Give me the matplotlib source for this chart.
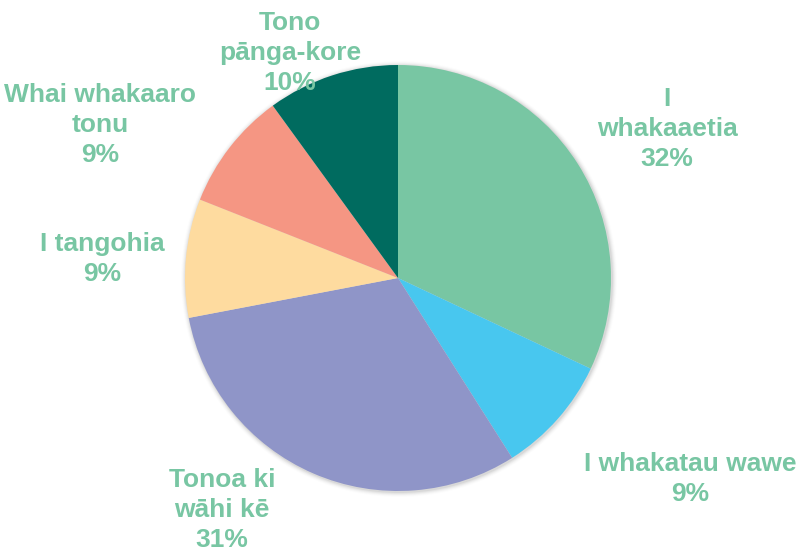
import matplotlib
matplotlib.use("Agg")
import matplotlib.pyplot as plt
from matplotlib.patches import Circle

categories = ["I\nwhakaaetia", "I whakatau wawe", "Tonoa ki\nwāhi kē",
              "I tangohia", "Whai whakaaro\ntonu", "Tono\npānga-kore"]
values = [32, 9, 31, 9, 9, 10]

colors = ["#78C6A3", "#48C7EF", "#8F95C8", "#FEDB9F", "#F59683", "#006B5F"]
text_color = "#78C6A3"

W, H = 797, 551
fig = plt.figure(figsize=(W / 100, H / 100), dpi=100)
ax = fig.add_axes([0, 0, 1, 1])
ax.set_xlim(0, W)
ax.set_ylim(0, H)
ax.set_aspect("equal")
ax.axis("off")

cx, cy, r = 398, H - 278, 213

# subtle shadow
for i, a in zip(range(1, 6), [0.05, 0.04, 0.03, 0.02, 0.01]):
    ax.add_patch(Circle((cx + 1, cy - 1), r + i, color="#000000", alpha=a, lw=0, zorder=0))

ax.pie(values, colors=colors, startangle=90, counterclock=False,
       center=(cx, cy), radius=r, frame=True,
       wedgeprops=dict(linewidth=0, zorder=1))
ax.set_xlim(0, W)
ax.set_ylim(0, H)
ax.axis("off")

label_pos = [(667, 129), (690, 479), (222, 510), (102, 259), (100, 125), (290, 53)]
for cat, v, (x, y) in zip(categories, values, label_pos):
    ax.text(x, H - y, f"{cat}\n{v}%", ha="center", va="center",
            fontsize=19, fontweight="bold", color=text_color,
            family=["Liberation Sans", "DejaVu Sans"], linespacing=1.32, zorder=5)

fig.savefig("out.png", dpi=100)
